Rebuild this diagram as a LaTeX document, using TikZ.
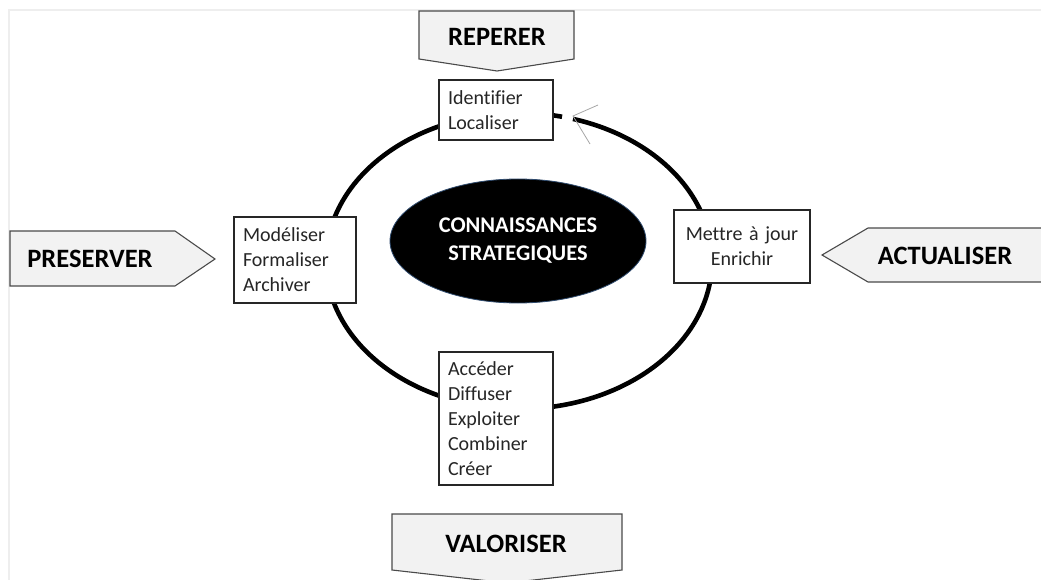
\documentclass[tikz,border=0pt]{standalone}
\usepackage{fontspec}
\setmainfont{Carlito}[Ligatures=NoCommon]
\usetikzlibrary{shapes.geometric}
\definecolor{framegray}{HTML}{EEEEEE}
\definecolor{tagfill}{HTML}{F2F2F2}
\definecolor{tagline}{HTML}{4A4A4A}
\definecolor{boxline}{HTML}{262626}
\definecolor{coreline}{HTML}{2F4B6E}
\begin{document}
\begin{tikzpicture}[x=1pt,y=-1pt,
  tagshape/.style={draw=tagline, fill=tagfill, line width=1.1pt, line join=miter},
  tagtext/.style={inner sep=0pt, font=\fontsize{26.5}{30}\selectfont\bfseries, text=black},
  stepbox/.style={draw=boxline, fill=white, line width=1.4pt, inner xsep=9pt, inner ysep=0pt,
    font=\fontsize{20}{25}\selectfont, text=boxline, align=left},
  core/.style={ellipse, draw=coreline, fill=black, line width=0.8pt, inner sep=0pt,
    minimum width=256pt, minimum height=124pt, text=white, align=center,
    font=\fontsize{22.4}{28}\selectfont\bfseries}
  ]
\useasboundingbox (0,0) rectangle (1041,580);
\clip (0,0) rectangle (1041,580);
% light frame
\draw[framegray, line width=2pt] (8,10) -- (1041,10);
\draw[framegray, line width=2pt] (9,10) -- (9,580);
% cycle
\draw[line width=4.6pt] plot[domain=-73.75:282.9, samples=240, smooth]
  ({519+193*cos(\x)},{261+148*sin(\x)});
\coordinate (tip) at (573,116);
\coordinate (armA) at (598,105);
\coordinate (armB) at (590,144);
\draw[gray!70, line width=0.8pt] (armA) -- (tip) -- (armB);
% centre
\node[core] (core) at (518,241) {CONNAISSANCES\\STRATEGIQUES};
% boxes
\node[stepbox, minimum width=114pt, minimum height=60pt, text width=96pt] (ident) at (496,110) {Identifier\\Localiser};
\node[stepbox, minimum width=122pt, minimum height=86pt, text width=104pt] (model) at (295,260) {Modéliser\\Formaliser\\Archiver};
\node[stepbox, minimum width=136pt, minimum height=73pt, text width=118pt, align=center] (maj) at (742,246.5) {Mettre à jour\\Enrichir};
\node[stepbox, minimum width=114pt, minimum height=133pt, text width=96pt] (acces) at (496,418.5) {Accéder\\Diffuser\\Exploiter\\Combiner\\Créer};
% tags
\draw[tagshape] (419,11) -- (574,11) -- (574,59) -- (497,71) -- (419,59) -- cycle;
\node[tagtext] (reperer) at (497,36.5) {REPERER};
\draw[tagshape] (10,231) -- (175,231) -- (215,259) -- (175,286) -- (10,286) -- cycle;
\node[tagtext] (preserver) at (90,259) {PRESERVER};
\draw[tagshape] (822,255) -- (868,228) -- (1050,228) -- (1050,282) -- (868,282) -- cycle;
\node[tagtext] (actualiser) at (945,256) {ACTUALISER};
\draw[tagshape] (392,514) -- (622,514) -- (622,570) -- (507,583) -- (392,570) -- cycle;
\node[tagtext] (valoriser) at (506,544) {VALORISER};
\end{tikzpicture}
\end{document}
